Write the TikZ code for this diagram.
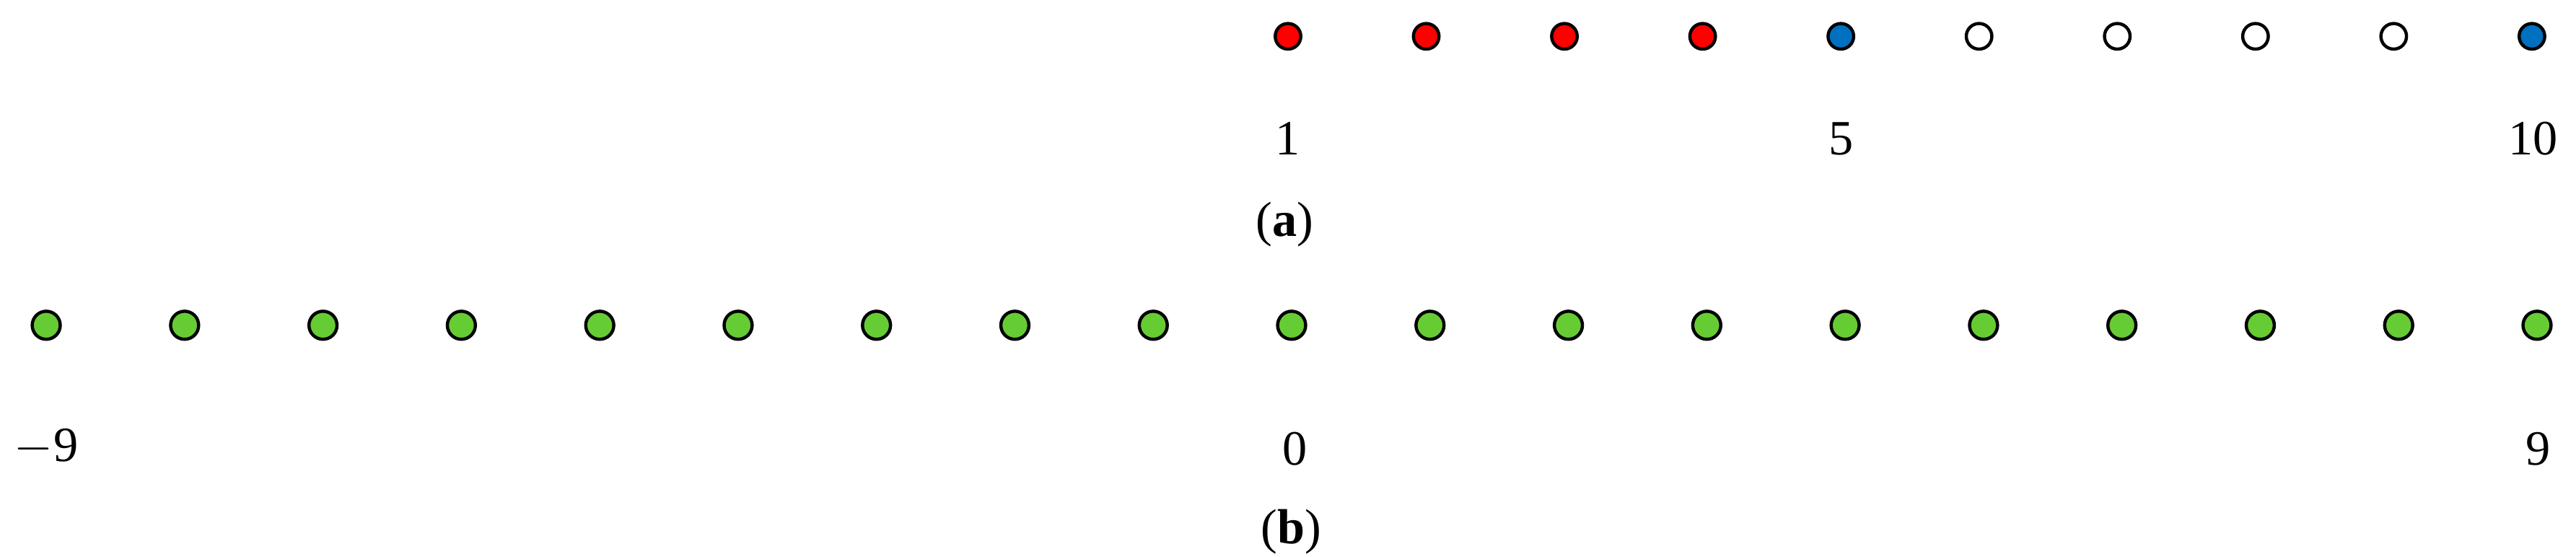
\documentclass[tikz,border=0pt]{standalone}
\usepackage{fontspec}
\setmainfont{Liberation Serif}
\definecolor{dred}{RGB}{255,0,0}
\definecolor{dblue}{RGB}{0,112,192}
\definecolor{dgreen}{RGB}{102,204,51}
\begin{document}
\begin{tikzpicture}[x=0.02cm,y=0.02cm,
  dot/.style={circle,draw=black,line width=1.1pt,inner sep=0pt},
  lab/.style={font=\fontsize{17}{20}\selectfont,inner sep=0pt}]
\useasboundingbox (0,0) rectangle (1560,337);
% row a
\foreach \i/\c in {1/dred,2/dred,3/dred,4/dred,5/dblue,6/white,7/white,8/white,9/white,10/dblue}{
  \node[dot,fill=\c,minimum size=0.31cm] (a\i) at ({780+(\i-1)*83.7},315) {};
}
\node[lab] (l1) at (780,253) {1};
\node[lab] (l5) at (1115,253) {5};
\node[lab] (l10) at (1534,253) {10};
\node[lab] (capa) at (778,201) {(\textbf{a})};
% row b
\foreach \i in {0,...,18}{
  \node[dot,fill=dgreen,minimum size=0.34cm] (b\i) at ({28+\i*83.8},140) {};
}
\node[lab] (lm9) at (28,66) {$-$9};
\node[lab] (l0) at (784,65) {0};
\node[lab] (l9) at (1537,65) {9};
\node[lab] (capb) at (782,15) {(\textbf{b})};
\end{tikzpicture}
\end{document}
